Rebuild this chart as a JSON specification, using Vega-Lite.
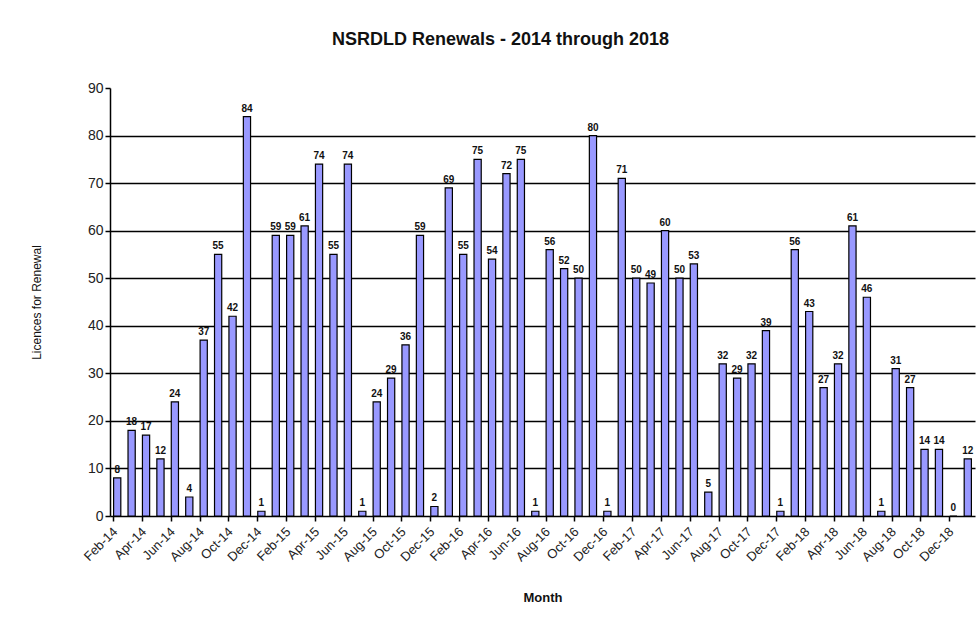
{
  "$schema": "https://vega.github.io/schema/vega-lite/v6.json",
  "autosize": {"type": "none"},
  "width": 865,
  "height": 428,
  "padding": {"left": 110, "top": 88, "right": 5, "bottom": 101},
  "background": "white",
  "config": {"view": {"stroke": null}, "font": "Liberation Sans"},
  "title": {"text": "NSRDLD Renewals - 2014 through 2018", "fontSize": 18, "fontWeight": "bold", "font": "Liberation Sans", "color": "#111", "dx": -42, "offset": 32},
  "data": {"values": [
    {"month": "Feb-14", "count": 8}, {"month": "Mar-14", "count": 18}, {"month": "Apr-14", "count": 17}, {"month": "May-14", "count": 12},
    {"month": "Jun-14", "count": 24}, {"month": "Jul-14", "count": 4}, {"month": "Aug-14", "count": 37}, {"month": "Sep-14", "count": 55},
    {"month": "Oct-14", "count": 42}, {"month": "Nov-14", "count": 84}, {"month": "Dec-14", "count": 1}, {"month": "Jan-15", "count": 59},
    {"month": "Feb-15", "count": 59}, {"month": "Mar-15", "count": 61}, {"month": "Apr-15", "count": 74}, {"month": "May-15", "count": 55},
    {"month": "Jun-15", "count": 74}, {"month": "Jul-15", "count": 1}, {"month": "Aug-15", "count": 24}, {"month": "Sep-15", "count": 29},
    {"month": "Oct-15", "count": 36}, {"month": "Nov-15", "count": 59}, {"month": "Dec-15", "count": 2}, {"month": "Jan-16", "count": 69},
    {"month": "Feb-16", "count": 55}, {"month": "Mar-16", "count": 75}, {"month": "Apr-16", "count": 54}, {"month": "May-16", "count": 72},
    {"month": "Jun-16", "count": 75}, {"month": "Jul-16", "count": 1}, {"month": "Aug-16", "count": 56}, {"month": "Sep-16", "count": 52},
    {"month": "Oct-16", "count": 50}, {"month": "Nov-16", "count": 80}, {"month": "Dec-16", "count": 1}, {"month": "Jan-17", "count": 71},
    {"month": "Feb-17", "count": 50}, {"month": "Mar-17", "count": 49}, {"month": "Apr-17", "count": 60}, {"month": "May-17", "count": 50},
    {"month": "Jun-17", "count": 53}, {"month": "Jul-17", "count": 5}, {"month": "Aug-17", "count": 32}, {"month": "Sep-17", "count": 29},
    {"month": "Oct-17", "count": 32}, {"month": "Nov-17", "count": 39}, {"month": "Dec-17", "count": 1}, {"month": "Jan-18", "count": 56},
    {"month": "Feb-18", "count": 43}, {"month": "Mar-18", "count": 27}, {"month": "Apr-18", "count": 32}, {"month": "May-18", "count": 61},
    {"month": "Jun-18", "count": 46}, {"month": "Jul-18", "count": 1}, {"month": "Aug-18", "count": 31}, {"month": "Sep-18", "count": 27},
    {"month": "Oct-18", "count": 14}, {"month": "Nov-18", "count": 14}, {"month": "Dec-18", "count": 0}, {"month": "Jan-19", "count": 12}
  ]},
  "encoding": {
    "x": {
      "field": "month", "type": "nominal", "sort": null,
      "scale": {"paddingInner": 0.5, "paddingOuter": 0.25},
      "axis": {
        "title": "Month", "titleFontSize": 13, "titleFontWeight": "bold", "titleColor": "#111", "titlePadding": 28,
        "values": ["Feb-14","Apr-14","Jun-14","Aug-14","Oct-14","Dec-14","Feb-15","Apr-15","Jun-15","Aug-15","Oct-15","Dec-15","Feb-16","Apr-16","Jun-16","Aug-16","Oct-16","Dec-16","Feb-17","Apr-17","Jun-17","Aug-17","Oct-17","Dec-17","Feb-18","Apr-18","Jun-18","Aug-18","Oct-18","Dec-18"],
        "bandPosition": 0,
        "labelAngle": -45, "labelFontSize": 13, "labelColor": "#222", "labelOffset": -6,
        "domainColor": "black", "domainWidth": 1.5, "tickColor": "black", "tickWidth": 1.5, "tickSize": 5,
        "labelPadding": 4
      }
    },
    "y": {
      "field": "count", "type": "quantitative",
      "scale": {"domain": [0, 90], "nice": false},
      "axis": {
        "title": "Licences for Renewal", "titleFontSize": 12, "titleFontWeight": "normal", "titleColor": "#111", "titlePadding": 44,
        "values": [0,10,20,30,40,50,60,70,80,90],
        "labelFontSize": 14, "labelColor": "#222",
        "domainColor": "black", "domainWidth": 1.5, "tickColor": "black", "tickWidth": 1.5, "tickSize": 5,
        "grid": true, "gridColor": {"condition": {"test": "datum.value == 90 || datum.value == 0", "value": null}, "value": "black"}, "gridWidth": 1.5
      }
    }
  },
  "layer": [
    {"mark": {"type": "bar", "fill": "#9999FF", "stroke": "black", "strokeWidth": 1.2}},
    {"mark": {"type": "text", "dy": -8, "fontSize": 10, "fontWeight": "bold", "color": "#111"}, "encoding": {"text": {"field": "count", "type": "quantitative"}}}
  ]
}
